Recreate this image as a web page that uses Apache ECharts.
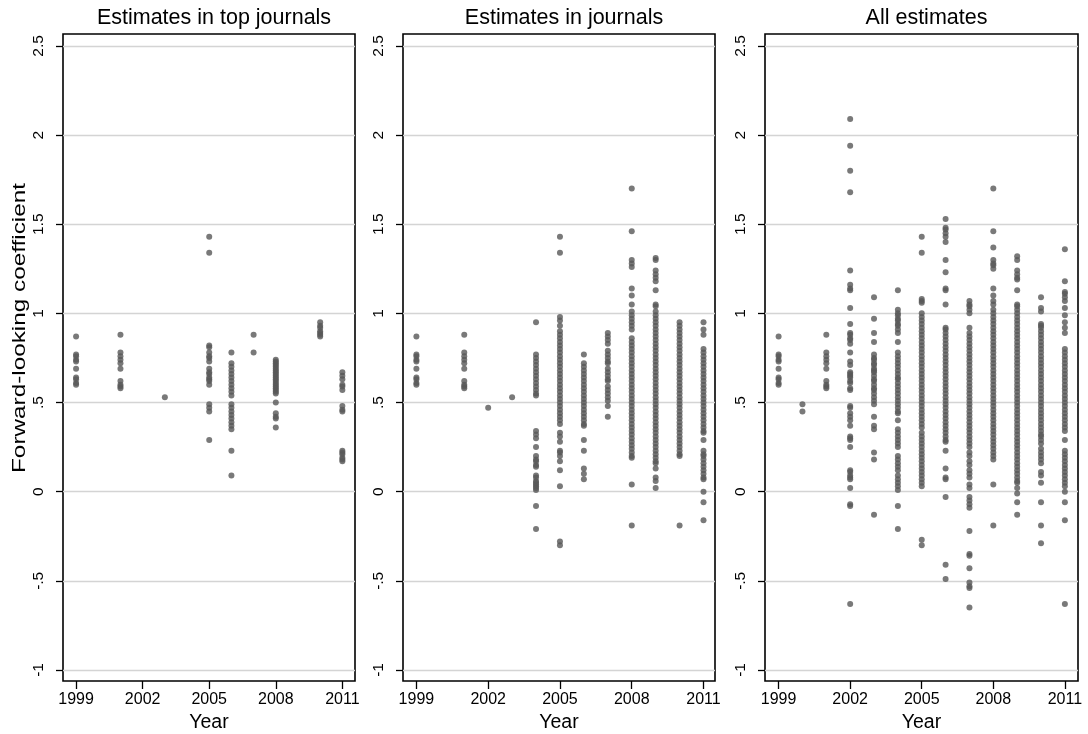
<!DOCTYPE html>
<html>
<head>
<meta charset="utf-8">
<script src="https://cdn.jsdelivr.net/npm/echarts@6/dist/echarts.min.js"></script>
<style>html,body{margin:0;padding:0;background:#fff;}#chart{width:1088px;height:734px;}</style>
</head>
<body>
<div id="chart"></div>
<script>
// ---- Data ----
const panelTitles = ["Estimates in top journals", "Estimates in journals", "All estimates"];
const xTickValues = [1999, 2002, 2005, 2008, 2011];
const xTickLabels = ["1999", "2002", "2005", "2008", "2011"];
const yTickValues = [-1, -0.5, 0, 0.5, 1, 1.5, 2, 2.5];
const yTickLabels = ["-1", "-.5", "0", ".5", "1", "1.5", "2", "2.5"];
const xTitle = "Year";
const yTitle = "Forward-looking coefficient";

const topYears = [1999, 2001, 2003, 2005, 2006, 2007, 2008, 2010, 2011];
const topValues = [
  [0.87,0.77,0.76,0.74,0.73,0.69,0.64,0.63,0.61,0.60],
  [0.88,0.78,0.76,0.74,0.72,0.69,0.62,0.60,0.59,0.58],
  [0.53],
  [1.43,1.34,0.82,0.81,0.78,0.76,0.75,0.73,0.69,0.67,0.66,0.64,0.63,0.62,0.60,0.49,0.47,0.45,0.29],
  [0.78,0.72,0.70,0.68,0.66,0.64,0.62,0.60,0.58,0.56,0.54,0.49,0.47,0.45,0.43,0.41,0.39,0.37,0.35,0.23,0.09],
  [0.88,0.78],
  [0.74,0.73,0.72,0.71,0.70,0.69,0.68,0.67,0.66,0.65,0.64,0.63,0.62,0.61,0.60,0.59,0.58,0.57,0.56,0.55,0.50,0.44,0.42,0.41,0.36],
  [0.95,0.93,0.92,0.90,0.89,0.88,0.87],
  [0.67,0.65,0.63,0.60,0.59,0.57,0.48,0.46,0.45,0.23,0.22,0.21,0.19,0.18,0.17]
];

const journalYears = [1999, 2001, 2002, 2003, 2004, 2005, 2006, 2007, 2008, 2009, 2010, 2011];
const journalValues = [
  [0.87,0.77,0.76,0.74,0.73,0.69,0.64,0.63,0.61,0.60],
  [0.88,0.78,0.76,0.74,0.72,0.69,0.62,0.60,0.59,0.58],
  [0.47],
  [0.53],
  [0.95,0.77,0.75,0.73,0.71,0.69,0.67,0.65,0.63,0.61,0.59,0.57,0.55,0.54,0.34,0.32,0.30,0.25,0.20,0.18,0.17,0.15,0.14,0.09,0.08,0.06,0.05,0.04,0.03,0.02,0.01,-0.08,-0.21],
  [1.43,1.34,0.98,0.96,0.93,0.90,0.88,0.86,0.84,0.82,0.80,0.78,0.76,0.74,0.72,0.70,0.68,0.66,0.64,0.62,0.60,0.58,0.56,0.54,0.52,0.50,0.48,0.46,0.44,0.42,0.40,0.38,0.33,0.31,0.28,0.23,0.22,0.20,0.17,0.12,0.03,-0.28,-0.30],
  [0.77,0.72,0.70,0.68,0.66,0.64,0.62,0.60,0.58,0.56,0.54,0.52,0.50,0.48,0.46,0.44,0.42,0.40,0.38,0.37,0.29,0.23,0.13,0.10,0.07],
  [0.89,0.87,0.85,0.83,0.79,0.77,0.75,0.73,0.72,0.69,0.67,0.65,0.63,0.62,0.59,0.57,0.55,0.53,0.51,0.48,0.42],
  [1.70,1.46,1.30,1.28,1.26,1.14,1.10,1.05,1.01,0.99,0.97,0.95,0.93,0.91,0.86,0.84,0.82,0.80,0.78,0.76,0.74,0.72,0.70,0.68,0.66,0.64,0.62,0.60,0.58,0.56,0.54,0.52,0.50,0.48,0.46,0.44,0.42,0.40,0.38,0.36,0.34,0.32,0.30,0.28,0.26,0.24,0.22,0.20,0.19,0.04,-0.19],
  [1.31,1.30,1.24,1.22,1.20,1.18,1.13,1.05,1.04,1.01,0.99,0.97,0.95,0.93,0.91,0.89,0.87,0.85,0.83,0.81,0.79,0.77,0.75,0.73,0.71,0.69,0.67,0.65,0.63,0.61,0.59,0.57,0.55,0.53,0.51,0.49,0.47,0.45,0.43,0.41,0.39,0.37,0.35,0.33,0.31,0.29,0.27,0.25,0.23,0.21,0.19,0.17,0.16,0.13,0.08,0.06,0.02],
  [0.95,0.93,0.91,0.89,0.87,0.85,0.83,0.81,0.79,0.77,0.75,0.73,0.71,0.69,0.67,0.65,0.63,0.61,0.59,0.57,0.55,0.53,0.51,0.49,0.47,0.45,0.43,0.41,0.39,0.37,0.35,0.33,0.31,0.29,0.27,0.25,0.23,0.21,0.20,-0.19],
  [0.95,0.91,0.88,0.80,0.78,0.76,0.74,0.72,0.70,0.68,0.66,0.64,0.62,0.60,0.58,0.56,0.54,0.52,0.50,0.48,0.46,0.44,0.42,0.40,0.38,0.36,0.34,0.33,0.29,0.23,0.21,0.20,0.18,0.16,0.14,0.12,0.10,0.08,0.07,0.00,-0.06,-0.16]
];

const allYears = [1999, 2000, 2001, 2002, 2003, 2004, 2005, 2006, 2007, 2008, 2009, 2010, 2011];
const allValues = [
  [0.87,0.77,0.76,0.74,0.73,0.69,0.64,0.63,0.61,0.60],
  [0.49,0.45],
  [0.88,0.78,0.76,0.74,0.72,0.69,0.62,0.60,0.59,0.58],
  [2.09,1.94,1.80,1.68,1.24,1.16,1.14,1.13,1.03,0.94,0.89,0.88,0.86,0.85,0.83,0.78,0.73,0.71,0.67,0.66,0.65,0.64,0.62,0.61,0.58,0.57,0.48,0.47,0.44,0.42,0.40,0.37,0.31,0.30,0.29,0.25,0.12,0.11,0.09,0.08,0.07,0.02,-0.07,-0.08,-0.63],
  [1.09,0.97,0.89,0.84,0.77,0.75,0.74,0.72,0.71,0.69,0.68,0.67,0.65,0.63,0.62,0.60,0.58,0.57,0.55,0.53,0.51,0.49,0.42,0.37,0.35,0.22,0.18,-0.13],
  [1.13,1.02,1.00,0.99,0.97,0.96,0.94,0.93,0.91,0.89,0.84,0.78,0.76,0.74,0.72,0.70,0.68,0.66,0.64,0.63,0.61,0.59,0.57,0.55,0.53,0.51,0.49,0.47,0.45,0.44,0.40,0.35,0.33,0.31,0.29,0.27,0.25,0.20,0.18,0.16,0.14,0.12,0.09,0.07,0.05,0.03,0.01,-0.08,-0.21],
  [1.43,1.34,1.08,1.07,1.06,1.00,0.98,0.96,0.94,0.92,0.90,0.88,0.86,0.84,0.82,0.80,0.78,0.76,0.74,0.72,0.70,0.68,0.66,0.64,0.62,0.60,0.58,0.56,0.54,0.52,0.50,0.48,0.46,0.44,0.42,0.40,0.38,0.36,0.33,0.31,0.29,0.27,0.25,0.23,0.21,0.19,0.17,0.15,0.13,0.11,0.09,0.07,0.05,0.03,-0.27,-0.30],
  [1.53,1.48,1.47,1.45,1.43,1.40,1.30,1.23,1.14,1.13,1.05,0.92,0.91,0.89,0.87,0.85,0.83,0.81,0.79,0.77,0.75,0.73,0.71,0.69,0.67,0.65,0.63,0.61,0.59,0.57,0.55,0.53,0.51,0.49,0.47,0.45,0.43,0.41,0.39,0.37,0.35,0.33,0.31,0.29,0.28,0.23,0.13,0.08,0.07,-0.03,-0.41,-0.49],
  [1.07,1.05,1.04,1.02,1.00,0.92,0.89,0.87,0.85,0.83,0.81,0.79,0.77,0.75,0.73,0.71,0.69,0.67,0.65,0.63,0.61,0.59,0.57,0.55,0.53,0.51,0.49,0.47,0.45,0.43,0.41,0.39,0.37,0.35,0.33,0.31,0.29,0.27,0.25,0.22,0.20,0.17,0.15,0.12,0.10,0.08,0.04,0.02,-0.03,-0.05,-0.07,-0.09,-0.22,-0.35,-0.36,-0.43,-0.51,-0.53,-0.54,-0.65],
  [1.70,1.46,1.37,1.30,1.28,1.27,1.25,1.14,1.10,1.07,1.05,1.02,1.00,0.98,0.96,0.94,0.92,0.90,0.88,0.86,0.84,0.82,0.80,0.78,0.76,0.74,0.72,0.70,0.68,0.66,0.64,0.62,0.60,0.58,0.56,0.54,0.52,0.50,0.48,0.46,0.44,0.42,0.40,0.38,0.36,0.34,0.32,0.30,0.28,0.26,0.24,0.22,0.20,0.18,0.04,-0.19],
  [1.32,1.30,1.24,1.22,1.20,1.19,1.13,1.05,1.04,1.02,1.00,0.98,0.96,0.94,0.92,0.90,0.88,0.86,0.84,0.82,0.80,0.78,0.76,0.74,0.72,0.70,0.68,0.66,0.64,0.62,0.60,0.58,0.56,0.54,0.52,0.50,0.48,0.46,0.44,0.42,0.40,0.38,0.36,0.34,0.32,0.30,0.28,0.26,0.24,0.22,0.20,0.18,0.16,0.14,0.12,0.10,0.08,0.06,0.05,0.02,-0.01,-0.06,-0.13],
  [1.09,1.03,1.01,0.94,0.93,0.92,0.90,0.88,0.86,0.84,0.82,0.80,0.78,0.76,0.74,0.72,0.70,0.68,0.66,0.64,0.62,0.60,0.58,0.56,0.54,0.52,0.50,0.48,0.46,0.44,0.42,0.40,0.38,0.36,0.34,0.32,0.31,0.29,0.27,0.24,0.22,0.20,0.18,0.16,0.11,0.09,0.05,-0.06,-0.19,-0.29],
  [1.36,1.18,1.12,1.11,1.09,1.07,1.03,0.99,0.95,0.92,0.89,0.80,0.78,0.76,0.74,0.72,0.70,0.68,0.66,0.64,0.62,0.60,0.58,0.56,0.54,0.52,0.50,0.48,0.46,0.44,0.42,0.40,0.38,0.36,0.34,0.29,0.23,0.21,0.19,0.17,0.15,0.13,0.11,0.09,0.07,0.05,0.03,0.00,-0.06,-0.16,-0.63]
];

// ---- Chart ----
const FONT = "'Liberation Sans', Arial, sans-serif";
const panels = [
  {years: topYears, values: topValues, grid: {left: 63, top: 34, width: 292, height: 647}, xmin: 1998.41, xmax: 2011.57},
  {years: journalYears, values: journalValues, grid: {left: 403, top: 34, width: 312, height: 647}, xmin: 1998.44, xmax: 2011.48},
  {years: allYears, values: allValues, grid: {left: 765, top: 34, width: 313, height: 647}, xmin: 1998.43, xmax: 2011.55}
];

function toPoints(years, values) {
  const pts = [];
  years.forEach((yr, i) => values[i].forEach(v => pts.push([yr, v])));
  return pts;
}

const option = {
  animation: false,
  backgroundColor: '#fff',
  title: panels.map((p, i) => ({
    text: panelTitles[i],
    left: p.grid.left + p.grid.width / 2,
    textAlign: 'center',
    top: 2,
    textStyle: {fontFamily: FONT, fontSize: 21.5, fontWeight: 'normal', color: '#000'}
  })),
  grid: panels.map(p => Object.assign({show: true, borderColor: '#000', borderWidth: 1.6, backgroundColor: 'transparent',
    containLabel: false, outerBoundsMode: 'none'}, p.grid)),
  xAxis: panels.map((p, i) => ({
    type: 'value', gridIndex: i, min: p.xmin, max: p.xmax,
    name: xTitle, nameLocation: 'middle', nameGap: 28,
    nameTextStyle: {fontFamily: FONT, fontSize: 19.5, color: '#000'},
    axisLine: {show: false, onZero: false},
    axisTick: {show: true, customValues: xTickValues, length: 8, lineStyle: {color: '#000', width: 1.3}},
    axisLabel: {customValues: xTickValues, margin: 11, fontFamily: FONT, fontSize: 16, color: '#000',
      formatter: v => xTickLabels[xTickValues.indexOf(v)]},
    splitLine: {show: false}
  })),
  yAxis: panels.map((p, i) => ({
    type: 'value', gridIndex: i, min: -1.062, max: 2.567,
    axisLine: {show: false, onZero: false},
    axisTick: {show: true, customValues: yTickValues, length: 7, lineStyle: {color: '#000', width: 1.3}},
    axisLabel: {customValues: yTickValues, rotate: 90, margin: 16, fontFamily: FONT, fontSize: 15.5, color: '#000',
      formatter: v => yTickLabels[yTickValues.indexOf(v)]},
    splitLine: {show: true, lineStyle: {color: '#d4d4d4', width: 1.3}}
  })),
  graphic: [{
    type: 'text', x: 20, y: 328, rotation: Math.PI / 2,
    style: {text: yTitle, font: '18px ' + FONT, fill: '#000', textAlign: 'center', textVerticalAlign: 'middle'},
    scaleX: 1.35
  }],
  series: panels.map((p, i) => ({
    type: 'scatter', xAxisIndex: i, yAxisIndex: i,
    symbol: 'circle', symbolSize: 6,
    itemStyle: {color: '#585858'},
    data: toPoints(p.years, p.values)
  }))
};

echarts.init(document.getElementById('chart'), null, {renderer: 'canvas'}).setOption(option);
</script>
</body>
</html>
